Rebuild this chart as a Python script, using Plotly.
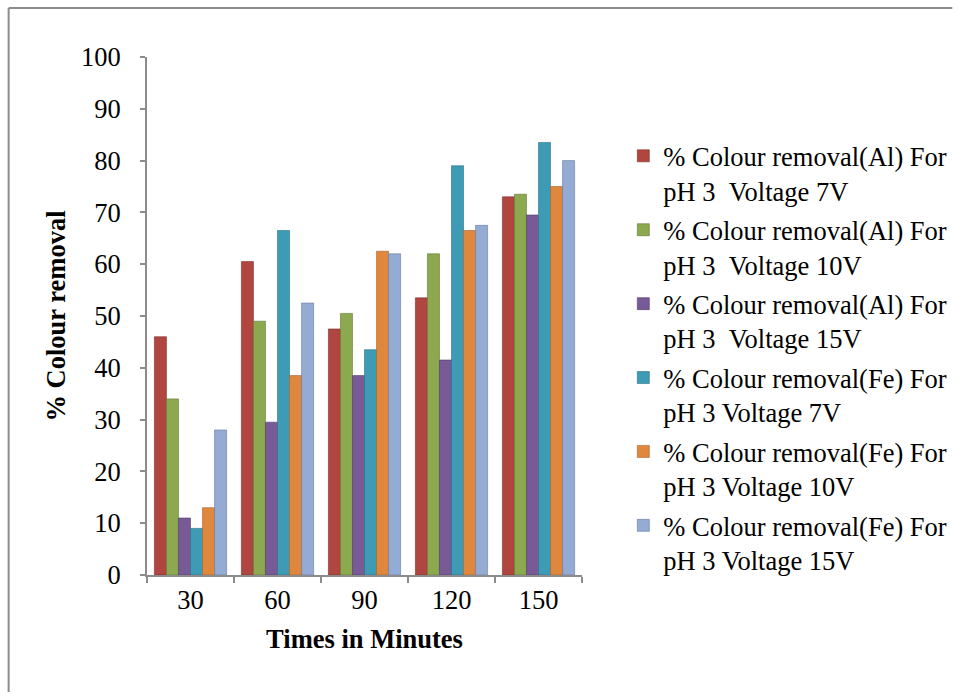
import plotly.graph_objects as go

categories = ["30", "60", "90", "120", "150"]
series_names = [
    "% Colour removal(Al) For<br>pH 3 &nbsp;Voltage 7V",
    "% Colour removal(Al) For<br>pH 3 &nbsp;Voltage 10V",
    "% Colour removal(Al) For<br>pH 3 &nbsp;Voltage 15V",
    "% Colour removal(Fe) For<br>pH 3 Voltage 7V",
    "% Colour removal(Fe) For<br>pH 3 Voltage 10V",
    "% Colour removal(Fe) For<br>pH 3 Voltage 15V",
]
al_7v = [46, 60.5, 47.5, 53.5, 73]
al_10v = [34, 49, 50.5, 62, 73.5]
al_15v = [11, 29.5, 38.5, 41.5, 69.5]
fe_7v = [9, 66.5, 43.5, 79, 83.5]
fe_10v = [13, 38.5, 62.5, 66.5, 75]
fe_15v = [28, 52.5, 62, 67.5, 80]
series_values = [al_7v, al_10v, al_15v, fe_7v, fe_10v, fe_15v]
colors = ["#B0463F", "#8CA950", "#775A96", "#3E9BB5", "#E0873E", "#94ACD4"]
edge_colors = ["#7A2E2A", "#5E7534", "#513D6A", "#2A6E82", "#A8622B", "#64789E"]

fig = go.Figure()
for i, (name, vals) in enumerate(zip(series_names, series_values)):
    fig.add_trace(go.Bar(
        x=categories, y=vals, name=name,
        marker=dict(color=colors[i], line=dict(color=edge_colors[i], width=0.6)),
        legendgroup=f"g{i}",
    ))

font_family = "Liberation Serif"
fs = 26.5
fig.update_layout(
    width=964, height=700,
    margin=dict(l=147, r=380, t=57, b=125),
    paper_bgcolor="white", plot_bgcolor="white",
    barmode="group", bargap=0.17, bargroupgap=0,
    font=dict(family=font_family, size=fs, color="black"),
    showlegend=True,
    legend=dict(
        x=1.095, y=0.855, xanchor="left", yanchor="top",
        font=dict(family=font_family, size=fs, color="black"),
        tracegroupgap=2, valign="top", bgcolor="rgba(0,0,0,0)",
    ),
    xaxis=dict(
        type="category", showline=True, linecolor="#8C8C8C", linewidth=2,
        ticks="outside", tickson="boundaries", ticklen=6, tickcolor="#8C8C8C", tickwidth=2,
        showgrid=False, zeroline=False,
        tickfont=dict(family=font_family, size=fs),
        title=dict(text="<b>Times in Minutes</b>", font=dict(family=font_family, size=fs), standoff=16),
    ),
    yaxis=dict(
        range=[0, 100], dtick=10, showline=True, linecolor="#8C8C8C", linewidth=2,
        ticks="outside", ticklen=5, tickcolor="#8C8C8C", tickwidth=2,
        showgrid=False, zeroline=False,
        tickfont=dict(family=font_family, size=fs), ticklabelstandoff=14,
        title=dict(text="<b>% Colour removal</b>", font=dict(family=font_family, size=fs), standoff=8),
    ),
    shapes=[
        dict(type="line", xref="paper", yref="paper",
             x0=(8 - 147) / 437, x1=(956 - 147) / 437,
             y0=(575 - 8) / 518, y1=(575 - 8) / 518,
             line=dict(color="#8C8C8C", width=2)),
        dict(type="line", xref="paper", yref="paper",
             x0=(8 - 147) / 437, x1=(8 - 147) / 437,
             y0=(575 - 8) / 518, y1=(575 - 692) / 518,
             line=dict(color="#8C8C8C", width=2)),
    ],
)

fig.write_html("out.html")
